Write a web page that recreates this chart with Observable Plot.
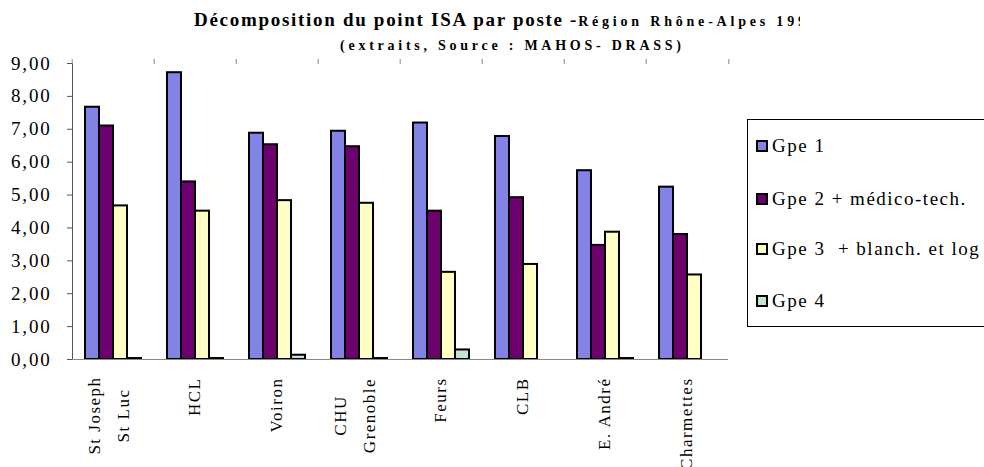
<!DOCTYPE html>
<html>
<head>
<meta charset="utf-8">
<script src="https://cdn.jsdelivr.net/npm/d3@7"></script>
<script src="https://cdn.jsdelivr.net/npm/@observablehq/plot@0.6"></script>
<style>
  body { margin: 0; background: #fff; }
  #wrap { position: relative; width: 984px; height: 467px; overflow: hidden;
          font-family: "Liberation Serif", "Tinos", "Times New Roman", serif; color: #000; }
  #wrap svg { position: absolute; left: 0; top: 0; }
  #wrap svg text { letter-spacing: 1.5px; }
  #wrap svg g[aria-label="y-axis tick label"] text { letter-spacing: 1.8px; }
  .title { position: absolute; left: 194px; top: 10px; width: 606px; overflow: hidden;
           white-space: nowrap; line-height: 19px; font-weight: bold; }
  .title .a { font-size: 19px; letter-spacing: 1.7px; }
  .title .b { font-size: 14px; letter-spacing: 3.8px; }
  .subtitle { position: absolute; left: 340px; top: 39px; white-space: nowrap;
              font-size: 14px; line-height: 14px; font-weight: bold; letter-spacing: 3.75px; }
  .legend { position: absolute; left: 747px; top: 119px; width: 300px; height: 208px;
            border: 1px solid #000; box-sizing: border-box; }
  .legend .row { position: absolute; left: 8px; height: 22px; display: flex; align-items: center;
                 font-size: 19px; letter-spacing: 1.5px; white-space: pre; }
  .legend .sw { width: 8px; height: 8px; border: 2px solid #000; margin-right: 4px; }
</style>
</head>
<body>
<div id="wrap"></div>
<script>
// ---- data ----
const categories = ["St Joseph\nSt Luc", "HCL", "Voiron", "CHU\nGrenoble", "Feurs", "CLB", "E. André", "Charmettes"];
const series = ["Gpe 1", "Gpe 2 + médico-tech.", "Gpe 3  + blanch. et log", "Gpe 4"];
const gpe1 = [7.67, 8.72, 6.88, 6.94, 7.19, 6.78, 5.74, 5.24];
const gpe2 = [7.10, 5.40, 6.53, 6.47, 4.51, 4.92, 3.47, 3.80];
const gpe3 = [4.67, 4.51, 4.83, 4.75, 2.65, 2.89, 3.87, 2.57];
const gpe4 = [0.03, 0.03, 0.13, 0.03, 0.29, 0.00, 0.03, 0.00];
const yTicks = [0, 1, 2, 3, 4, 5, 6, 7, 8, 9];
const colors = ["#8383E6", "#6C006C", "#FFFFC6", "#C4E4CC"];
const titleMain = "Décomposition du point ISA par poste -";
const titleRegion = "Région Rhône-Alpes 1998";
const subtitle = "(extraits, Source : MAHOS- DRASS)";

// ---- build ----
const values = [gpe1, gpe2, gpe3, gpe4];
const data = categories.flatMap((c, i) => series.map((s, j) => ({cat: c, serie: s, value: values[j][i]})));
const fmt = d => d.toFixed(2).replace(".", ",");

const W = 984, H = 467, mL = 69, mR = 254, mT = 63, mB = 108;
const bandW = (W - mL - mR) / categories.length;
const font = "Liberation Serif, Tinos, Times New Roman, serif";

const chart = Plot.plot({
  width: W, height: H,
  marginLeft: mL, marginRight: mR, marginTop: mT, marginBottom: mB,
  style: {background: "transparent", fontFamily: font, color: "#000"},
  fx: {domain: categories, padding: 0, label: null},
  x: {domain: series, paddingInner: 0, paddingOuter: 0.77, axis: null, label: null},
  y: {domain: [0, 9], label: null},
  color: {domain: series, range: colors},
  marks: [
    Plot.axisY(yTicks, {tickSize: 5, tickPadding: 16, tickFormat: fmt, fontSize: 19, stroke: "#555", fill: "#000", label: null}),
    Plot.frame({anchor: "left", facetAnchor: "left", stroke: "#555"}),
    Plot.axisFx({tickSize: 5, tickFormat: () => "", dx: -bandW / 2, stroke: "#888", label: null}),
    Plot.axisFx({ticks: [categories[categories.length - 1]], tickSize: 5, tickFormat: () => "", dx: bandW / 2, stroke: "#888", label: null}),
    Plot.barY(data.filter(d => d.value > 0), {fx: "cat", x: "serie", y: "value", fill: "serie", stroke: "#000", strokeWidth: 2}),
    Plot.ruleY([0], {stroke: "#888"}),
    Plot.text(categories.filter(d => !d.includes("\n")), {
      fx: d => d, text: d => d, frameAnchor: "bottom", rotate: -90, textAnchor: "end",
      dy: 18, dx: 4, fontSize: 17, fill: "#000"
    }),
    Plot.text(categories.filter(d => d.includes("\n")), {
      fx: d => d, text: d => d, frameAnchor: "bottom", rotate: -90, textAnchor: "middle",
      lineAnchor: "middle", lineHeight: 1.7, dy: 56, dx: -8, fontSize: 17, fill: "#000"
    })
  ]
});

const wrap = document.getElementById("wrap");
wrap.appendChild(chart);

const t = document.createElement("div");
t.className = "title";
const a = document.createElement("span"); a.className = "a"; a.textContent = titleMain;
const b = document.createElement("span"); b.className = "b"; b.textContent = titleRegion;
t.appendChild(a); t.appendChild(b);
wrap.appendChild(t);

const st = document.createElement("div");
st.className = "subtitle"; st.textContent = subtitle;
wrap.appendChild(st);

const lg = document.createElement("div");
lg.className = "legend";
const rowCenters = [26, 79, 129, 181];
series.forEach((s, i) => {
  const r = document.createElement("div");
  r.className = "row";
  r.style.top = (rowCenters[i] - 11) + "px";
  const sw = document.createElement("span");
  sw.className = "sw"; sw.style.background = colors[i];
  const tx = document.createElement("span"); tx.textContent = s;
  r.appendChild(sw); r.appendChild(tx);
  lg.appendChild(r);
});
wrap.appendChild(lg);
</script>
</body>
</html>
